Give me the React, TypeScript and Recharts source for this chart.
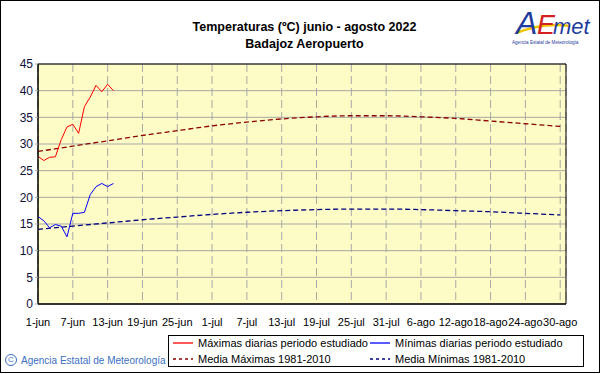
import React from 'react'
import {
  LineChart,
  Line,
  XAxis,
  YAxis,
  CartesianGrid,
  ReferenceArea,
} from 'recharts'

// dias desde el 1 de junio
const tickDays = [0, 6, 12, 18, 24, 30, 36, 42, 48, 54, 60, 66, 72, 78, 84, 90]
const tickLabels = [
  '1-jun', '7-jun', '13-jun', '19-jun', '25-jun', '1-jul', '7-jul', '13-jul',
  '19-jul', '25-jul', '31-jul', '6-ago', '12-ago', '18-ago', '24-ago', '30-ago',
]
const yTicks = [0, 5, 10, 15, 20, 25, 30, 35, 40, 45]

// temperaturas diarias observadas (1-jun .. 14-jun)
const maximas = [27.7, 26.9, 27.5, 27.6, 30.8, 33.2, 33.7, 32.0, 37.0, 38.8, 41.0, 39.8, 41.2, 40.0]
const minimas = [16.4, 15.6, 14.3, 14.9, 14.6, 12.6, 17.0, 17.0, 17.2, 20.5, 22.0, 22.6, 22.0, 22.6]

// medias 1981-2010, leidas cada 6 dias
const mediaMaximas = [28.6, 29.6, 30.6, 31.6, 32.5, 33.4, 34.1, 34.7, 35.1, 35.3, 35.3, 35.1, 34.8, 34.3, 33.8, 33.3]
const mediaMinimas = [14.0, 14.6, 15.2, 15.8, 16.3, 16.8, 17.2, 17.5, 17.7, 17.8, 17.8, 17.7, 17.5, 17.3, 17.0, 16.7]

const maxRows = maximas.map((v, i) => ({ day: i, value: v }))
const minRows = minimas.map((v, i) => ({ day: i, value: v }))
const mediaMaxRows = mediaMaximas.map((v, i) => ({ day: tickDays[i], value: v }))
const mediaMinRows = mediaMinimas.map((v, i) => ({ day: tickDays[i], value: v }))

const FONT = '"Liberation Sans", Arial, sans-serif'

const LegendItem = ({ color, dashed, label }: { color: string; dashed?: boolean; label: string }) => (
  <div style={{ display: 'flex', alignItems: 'center', height: 16, whiteSpace: 'nowrap' }}>
    <svg width={22} height={6} style={{ marginRight: 4 }}>
      <line x1={1} y1={3} x2={21} y2={3} stroke={color} strokeWidth={1.3} strokeDasharray={dashed ? '3 3' : undefined} />
    </svg>
    <span>{label}</span>
  </div>
)

const App: React.FC = () => {
  return (
    <div
      style={{
        position: 'absolute',
        left: 0,
        top: 0,
        width: 601,
        height: 374,
        background: '#ffffff',
        fontFamily: FONT,
      }}
    >
      <div
        style={{
          position: 'absolute',
          left: 0,
          top: 0,
          width: 598,
          height: 371,
          border: '1px solid #000',
        }}
      />
      <div
        style={{
          position: 'absolute',
          left: 0,
          width: 601,
          top: 19,
          textAlign: 'center',
          fontWeight: 'bold',
          fontSize: 12.5,
          lineHeight: '17px',
          color: '#000',
          paddingLeft: 4,
        }}
      >
        <div>Temperaturas (ºC) junio - agosto 2022</div>
        <div>Badajoz Aeropuerto</div>
      </div>

      {/* logo */}
      <svg style={{ position: 'absolute', left: 506, top: 3 }} width={92} height={44}>
        <path d="M10 30 Q38 19 64 23" stroke="#f2c500" strokeWidth={2.5} fill="none" />
        <text x={10} y={31} fontFamily={FONT} fontStyle="italic" fontSize={32} fill="#1f3c9e">A</text>
        <text x={31} y={31} fontFamily={FONT} fontStyle="italic" fontSize={27} fill="#d42020">E</text>
        <text x={47} y={31} fontFamily={FONT} fontStyle="italic" fontSize={22} fill="#1f3c9e">met</text>
        <text x={6} y={41} fontFamily={FONT} fontSize={4.6} fill="#1f3c9e">Agencia Estatal de Meteorología</text>
      </svg>

      <LineChart
        width={601}
        height={374}
        margin={{ top: 64, right: 35, bottom: 40, left: 8 }}
        style={{ position: 'absolute', left: 0, top: 0 }}
      >
        <CartesianGrid horizontal vertical={false} stroke="#a8a8a8" fill="#fefcc6" />
        <CartesianGrid horizontal={false} vertical stroke="#a8a8a8" strokeDasharray="8 4" />
        <XAxis
          type="number"
          dataKey="day"
          domain={[0, 91]}
          ticks={tickDays}
          tickFormatter={(d: number) => tickLabels[tickDays.indexOf(d)]}
          interval={0}
          axisLine={{ stroke: '#000' }}
          tickLine={false}
          tickMargin={8}
          tick={{ fill: '#000', fontSize: 11, fontFamily: FONT }}
          allowDataOverflow
        />
        <YAxis
          type="number"
          domain={[0, 45]}
          ticks={yTicks}
          interval={0}
          width={30}
          axisLine={{ stroke: '#000' }}
          tickLine={{ stroke: '#a8a8a8' }}
          tickSize={3}
          tickMargin={2}
          tick={{ fill: '#10103a', fontSize: 12, fontFamily: FONT }}
        />
        <ReferenceArea x1={0} x2={91} y1={0} y2={45} fill="none" stroke="#000" strokeOpacity={1} />
        <Line
          data={mediaMaxRows}
          dataKey="value"
          type="monotone"
          stroke="#8b0000"
          strokeWidth={1.3}
          strokeDasharray="5 3"
          dot={false}
          isAnimationActive={false}
        />
        <Line
          data={mediaMinRows}
          dataKey="value"
          type="monotone"
          stroke="#000080"
          strokeWidth={1.3}
          strokeDasharray="5 3"
          dot={false}
          isAnimationActive={false}
        />
        <Line
          data={maxRows}
          dataKey="value"
          type="linear"
          stroke="#ff0000"
          strokeWidth={1}
          dot={false}
          isAnimationActive={false}
        />
        <Line
          data={minRows}
          dataKey="value"
          type="linear"
          stroke="#0000ff"
          strokeWidth={1}
          dot={false}
          isAnimationActive={false}
        />
      </LineChart>

      {/* leyenda */}
      <div
        style={{
          position: 'absolute',
          left: 168,
          top: 335,
          width: 416,
          height: 32,
          border: '1px solid #000',
          boxSizing: 'border-box',
          fontSize: 11,
          color: '#000',
          display: 'grid',
          gridTemplateColumns: '197px 1fr',
          padding: '0 0 0 3px',
          alignContent: 'center',
        }}
      >
        <LegendItem color="#ff0000" label="Máximas diarias periodo estudiado" />
        <LegendItem color="#0000ff" label="Mínimas diarias periodo estudiado" />
        <LegendItem color="#8b0000" dashed label="Media Máximas 1981-2010" />
        <LegendItem color="#000080" dashed label="Media Mínimas 1981-2010" />
      </div>

      <div
        style={{
          position: 'absolute',
          left: 5,
          top: 354,
          fontSize: 10,
          color: '#3a6fc4',
          display: 'flex',
          alignItems: 'center',
          whiteSpace: 'nowrap',
        }}
      >
        <span
          style={{
            display: 'inline-block',
            width: 10,
            height: 10,
            border: '1px solid #3a6fc4',
            borderRadius: '50%',
            fontSize: 8,
            lineHeight: '10px',
            textAlign: 'center',
            marginRight: 4,
          }}
        >
          C
        </span>
        Agencia Estatal de Meteorología
      </div>
    </div>
  )
}

export default App
